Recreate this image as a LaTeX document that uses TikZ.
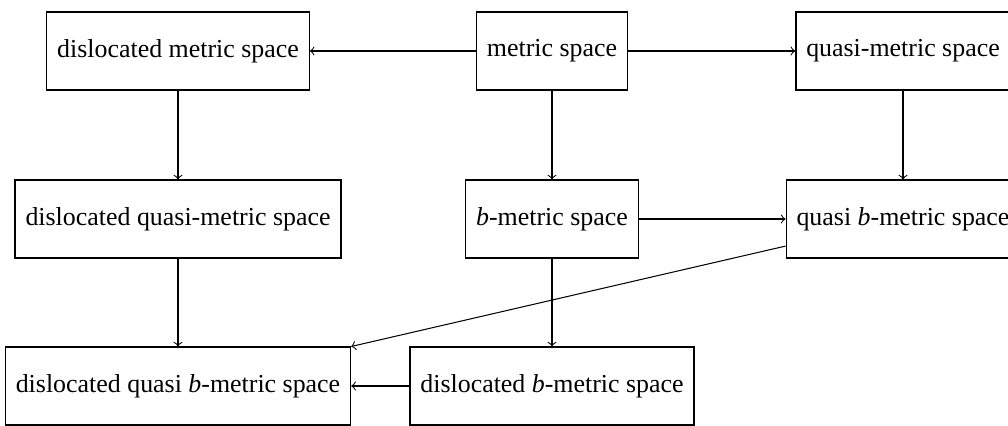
\documentclass[tikz,border=0pt]{standalone}
\usepackage{fontspec}
\setmainfont{Liberation Serif}

\begin{document}
\begin{tikzpicture}[x=0.386pt, y=-0.386pt,
    spacebox/.style={rectangle, draw, line width=0.5pt, inner xsep=4pt, minimum height=30pt, font=\fontsize{10}{12}\selectfont}]
    \useasboundingbox (0,1.5) rectangle (1008,427.5);
    
    % Top row
    \node[spacebox] (dm) at (178,52.5) {dislocated metric space};
    \node[spacebox] (ms) at (552,52.5) {metric space};
    \node[spacebox] (qm) at (903,52.5) {quasi-metric space};
    
    % Middle row
    \node[spacebox] (dqm) at (178,220.5) {dislocated quasi-metric space};
    \node[spacebox] (bm) at (552,220.5) {\textit{b}-metric space};
    \node[spacebox] (qbm) at (903,220.5) {quasi \textit{b}-metric space};
    
    % Bottom row
    \node[spacebox] (dqbm) at (178,387.5) {dislocated quasi \textit{b}-metric space};
    \node[spacebox] (dbm) at (552,387.5) {dislocated \textit{b}-metric space};
    
    % Connections
    \draw[->] (ms) -- (dm);
    \draw[->] (ms) -- (qm);
    \draw[->] (ms) -- (bm);
    \draw[->] (dm) -- (dqm);
    \draw[->] (qm) -- (qbm);
    \draw[->] (bm) -- (qbm);
    \draw[->] (dqm) -- (dqbm);
    \draw[->] (bm) -- (dbm);
    \draw[->] (qbm) -- (dqbm.north east);
    \draw[->] (dbm) -- (dqbm);
\end{tikzpicture}
\end{document}
